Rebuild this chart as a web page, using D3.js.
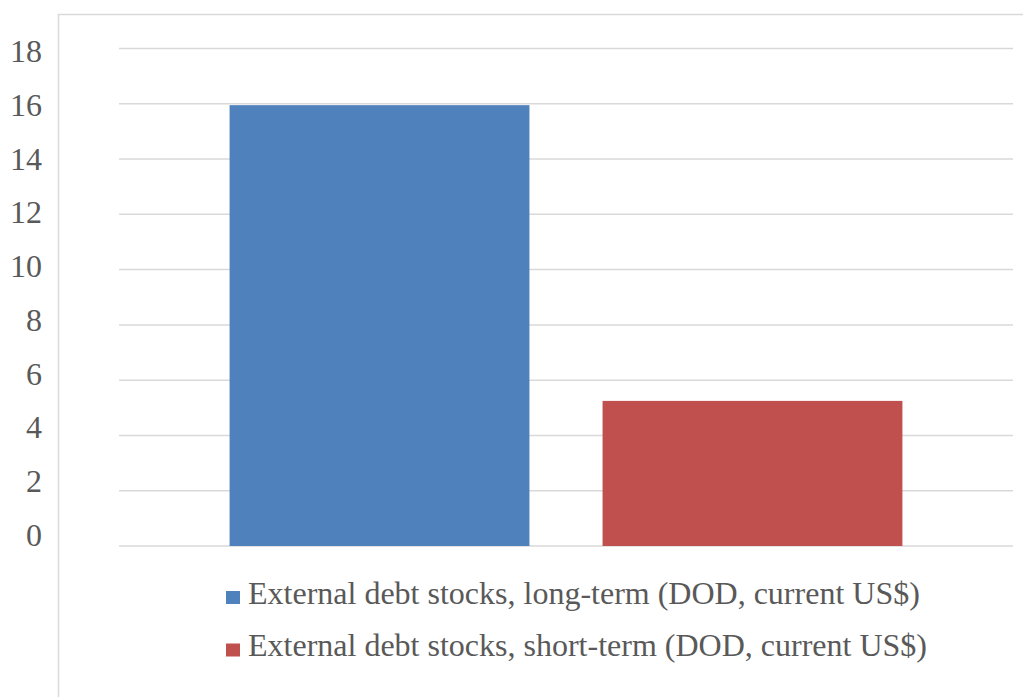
<!DOCTYPE html>
<html>
<head>
<meta charset="utf-8">
<script src="https://cdn.jsdelivr.net/npm/d3@7"></script>
<style>
  html, body { margin: 0; padding: 0; background: #fff; overflow: hidden; }
  svg { display: block; }
  svg text { font-family: 'Liberation Serif', 'Times New Roman', Times, serif; }
</style>
</head>
<body>
<svg id="chart" width="1023" height="697"></svg>
<script>
const series = [
  'External debt stocks, long-term (DOD, current US$)',
  'External debt stocks, short-term (DOD, current US$)'
]
const values = [15.95, 5.25]
const colors = ['#4f81bd', '#c0504d']
const yTicks = [0, 2, 4, 6, 8, 10, 12, 14, 16, 18]

const svg = d3.select('#chart')

// outer frame of the chart area (runs off the right and bottom edges)
svg.append('rect')
  .attr('x', 58.5).attr('y', 14.5)
  .attr('width', 1000).attr('height', 720)
  .attr('fill', 'none')
  .attr('stroke', '#d9d9d9')
  .attr('stroke-width', 1.5)

const y = d3.scaleLinear().domain([0, 18]).range([546, 48.5])
// tick labels sit on a slightly tighter spacing than the gridlines
const yLabel = d3.scaleLinear().domain([0, 18]).range([534.5, 51])

const x = d3.scaleBand()
  .domain(series)
  .range([119, 1013])
  .paddingInner(0.196)
  .paddingOuter(0.2965)

svg.append('g')
  .selectAll('line')
  .data(yTicks)
  .join('line')
  .attr('x1', 119).attr('x2', 1013)
  .attr('y1', d => y(d)).attr('y2', d => y(d))
  .attr('stroke', '#d9d9d9')
  .attr('stroke-width', 1.5)

svg.append('g')
  .selectAll('text')
  .data(yTicks)
  .join('text')
  .attr('x', 42)
  .attr('y', d => yLabel(d))
  .attr('dy', '0.35em')
  .attr('text-anchor', 'end')
  .attr('font-size', 32)
  .attr('fill', '#595959')
  .text(d => d)

svg.append('g')
  .selectAll('rect')
  .data(values)
  .join('rect')
  .attr('x', (d, i) => x(series[i]))
  .attr('y', d => y(d))
  .attr('width', x.bandwidth())
  .attr('height', d => y(0) - y(d))
  .attr('fill', (d, i) => colors[i])

const legend = svg.append('g')
  .selectAll('g')
  .data(series)
  .join('g')
  .attr('transform', (d, i) => `translate(226, ${591 + i * 52.5})`)

legend.append('rect')
  .attr('width', 14).attr('height', 13)
  .attr('fill', (d, i) => colors[i])

legend.append('text')
  .attr('x', 22)
  .attr('y', 12.5)
  .attr('font-size', 32)
  .attr('fill', '#595959')
  .text(d => d)
</script>
</body>
</html>
